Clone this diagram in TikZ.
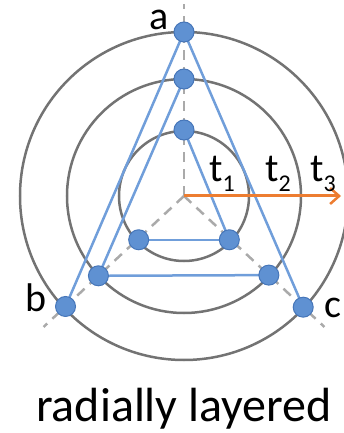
\documentclass[tikz,border=0pt]{standalone}
\usepackage{fontspec}
\setmainfont{Carlito}
\usetikzlibrary{arrows.meta}
\definecolor{ringgray}{RGB}{115,115,115}
\definecolor{dashgray}{RGB}{170,170,170}
\definecolor{vblue}{RGB}{95,145,210}
\definecolor{vborder}{RGB}{70,118,185}
\definecolor{eblue}{RGB}{112,158,218}
\definecolor{torange}{RGB}{237,125,49}
\newcommand{\tsub}[1]{\raisebox{-10pt}{\fontsize{24}{24}\selectfont #1}}

\begin{document}
\begin{tikzpicture}[x=1pt,y=1pt,
    vtx/.style={circle,inner sep=0pt,minimum size=20pt,fill=vblue,draw=vborder,line width=1pt},
    ring/.style={draw=ringgray,line width=2.5pt},
    spoke/.style={draw=dashgray,line width=2.5pt,dash pattern=on 10pt off 7pt},
    edge/.style={draw=eblue,line width=2.5pt},
    lbl/.style={inner sep=0pt,font=\fontsize{40}{40}\selectfont}]
    \useasboundingbox (-184,-237) rectangle (159,196);
    \coordinate (o) at (0,0);
    \coordinate (sa) at (90:192);
    \coordinate (sb) at (223:192);
    \coordinate (sc) at (-43:192);
    \draw[spoke] (o) -- (sa);
    \draw[spoke] (o) -- (sb);
    \draw[spoke] (o) -- (sc);
    \draw[ring] (o) circle (65pt);
    \draw[ring] (o) circle (117pt);
    \draw[ring] (o) circle (164pt);
    % layer 3
    \coordinate (a) at (90:164);
    \coordinate (b) at (223:162);
    \coordinate (c) at (-43:163);
    % layer 2
    \coordinate (m1) at (90:117);
    \coordinate (m2) at (223:117);
    \coordinate (m3) at (-43:116);
    % layer 1
    \coordinate (i1) at (90:66);
    \coordinate (i2) at (224:63);
    \coordinate (i3) at (-44:63);
    \draw[edge] (a) -- (b);
    \draw[edge] (a) -- (c);
    \draw[edge] (m1) -- (m2);
    \draw[edge] (m2) -- (m3);
    \draw[edge] (i1) -- (i3);
    \draw[edge] (i2) -- (i3);
    \coordinate (tip) at (157,0);
    \draw[torange,line width=3pt,-{Straight Barb[length=9pt,width=16pt,line width=2.5pt]}] (o) -- (tip);
    \foreach \v in {a,b,c,m1,m2,m3,i1,i2,i3}
        \node[vtx] (n\v) at (\v) {};
    \node[lbl] (la) at (-25,176) {a};
    \node[lbl] (lb) at (-148,-102) {b};
    \node[lbl] (lc) at (149,-112) {c};
    \node[lbl,anchor=base] (t1) at (38,14) {t\tsub{1}};
    \node[lbl,anchor=base] (t2) at (94,14) {t\tsub{2}};
    \node[lbl,anchor=base] (t3) at (139,14) {t\tsub{3}};
    \node[inner sep=0pt,anchor=base,font=\fontsize{48}{48}\selectfont] (title) at (0,-225) {radially layered};
\end{tikzpicture}
\end{document}
